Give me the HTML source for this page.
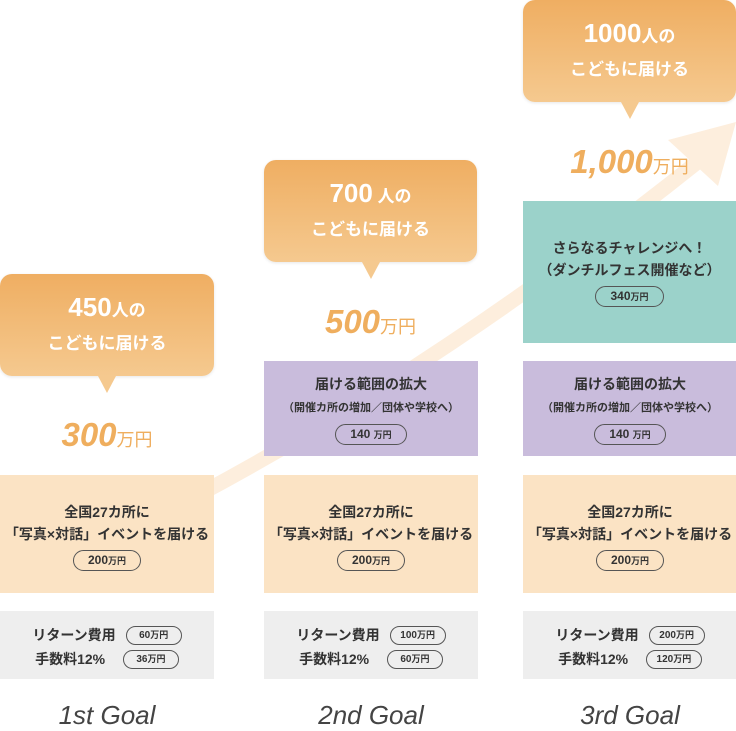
<!DOCTYPE html>
<html><head><meta charset="utf-8"><style>
*{margin:0;padding:0;box-sizing:border-box}
body{width:736px;height:731px;background:#fff;position:relative;overflow:hidden;font-family:"Liberation Sans","Noto Sans CJK JP",sans-serif;color:#333}
.abs{position:absolute}
.bub{position:absolute;background:linear-gradient(#efae62,#f5c98f);border-radius:12px;color:#fff;text-align:center;font-weight:bold;box-shadow:0 1px 3px rgba(0,0,0,.1)}
.bub .n{font-size:26px}
.bub .s{font-size:17px}
.bub .l2{font-size:17px;margin-top:6px}
.bub:after{content:"";position:absolute;left:50%;bottom:-17px;margin-left:-9px;border-left:9px solid transparent;border-right:9px solid transparent;border-top:17px solid #f5c98f}
.amt{position:absolute;color:#efae5e;font-style:italic;font-weight:bold;font-size:33px;text-align:center}
.amt span{font-style:normal;font-size:18px;font-weight:normal}
.box{position:absolute;text-align:center;font-weight:bold;font-size:14px;line-height:22px}
.pill{display:inline-block;border:1.3px solid #555;border-radius:12px;font-size:12px;line-height:18px;padding:0 14px;margin-top:5px;font-weight:bold}
.pill small{font-size:9px}
.o{background:#fbe3c4;top:475px;height:118px;width:214px}
.g{background:#eeeeee;top:611px;height:68px;width:214px}
.p{background:#c9bcdc;top:361px;height:95px;width:214px}
.sm{font-size:11px}
.goal{position:absolute;top:700px;width:214px;text-align:center;font-style:italic;font-size:26px;color:#444}
.row{display:flex;justify-content:center;align-items:center;gap:10px;font-size:14px;font-weight:bold}
.row .pill{margin:0;width:56px;padding:0;font-size:10px;line-height:16px}
</style></head><body>
<svg class="abs" style="left:0;top:0" width="736" height="731">
<path d="M200 494 Q450 360 700 160" stroke="#fdeedd" stroke-width="15" fill="none"/>
<polygon points="736,122 668,140 718,186" fill="#fdeedd"/>
</svg>

<div class="bub" style="left:0;top:274px;width:214px;height:102px;padding-top:18px"><span class="n">450</span><span class="s">人の</span><div class="l2">こどもに届ける</div></div>
<div class="bub" style="left:264px;top:160px;width:213px;height:102px;padding-top:18px"><span class="n">700</span><span class="s"> 人の</span><div class="l2">こどもに届ける</div></div>
<div class="bub" style="left:523px;top:0;width:213px;height:102px;padding-top:18px"><span class="n">1000</span><span class="s">人の</span><div class="l2">こどもに届ける</div></div>

<div class="amt" style="left:0;top:416px;width:214px">300<span>万円</span></div>
<div class="amt" style="left:264px;top:303px;width:213px">500<span>万円</span></div>
<div class="amt" style="left:523px;top:143px;width:213px">1,000<span>万円</span></div>

<div class="box" style="left:523px;top:201px;width:213px;height:142px;background:#9bd2ca;padding-top:36px">さらなるチャレンジへ！<br>（ダンチルフェス開催など）<br><span class="pill">340<small>万円</small></span></div>

<div class="box p" style="left:264px;padding-top:12px">届ける範囲の拡大<br><span class="sm">（開催カ所の増加／団体や学校へ）</span><br><span class="pill">140 <small>万円</small></span></div>
<div class="box p" style="left:523px;padding-top:12px">届ける範囲の拡大<br><span class="sm">（開催カ所の増加／団体や学校へ）</span><br><span class="pill">140 <small>万円</small></span></div>

<div class="box o" style="left:0;padding-top:26px">全国27カ所に<br>「写真×対話」イベントを届ける<br><span class="pill">200<small>万円</small></span></div>
<div class="box o" style="left:264px;padding-top:26px">全国27カ所に<br>「写真×対話」イベントを届ける<br><span class="pill">200<small>万円</small></span></div>
<div class="box o" style="left:523px;padding-top:26px">全国27カ所に<br>「写真×対話」イベントを届ける<br><span class="pill">200<small>万円</small></span></div>

<div class="box g" style="left:0;padding-top:13px"><div class="row"><span>リターン費用</span><span class="pill">60<small>万円</small></span></div><div class="row" style="margin-top:2px"><span>手数料12%&nbsp;&nbsp;</span><span class="pill">36<small>万円</small></span></div></div>
<div class="box g" style="left:264px;padding-top:13px"><div class="row"><span>リターン費用</span><span class="pill">100<small>万円</small></span></div><div class="row" style="margin-top:2px"><span>手数料12%&nbsp;&nbsp;</span><span class="pill">60<small>万円</small></span></div></div>
<div class="box g" style="left:523px;padding-top:13px"><div class="row"><span>リターン費用</span><span class="pill">200<small>万円</small></span></div><div class="row" style="margin-top:2px"><span>手数料12%&nbsp;&nbsp;</span><span class="pill">120<small>万円</small></span></div></div>

<div class="goal" style="left:0">1st Goal</div>
<div class="goal" style="left:264px">2nd Goal</div>
<div class="goal" style="left:523px">3rd Goal</div>
</body></html>
